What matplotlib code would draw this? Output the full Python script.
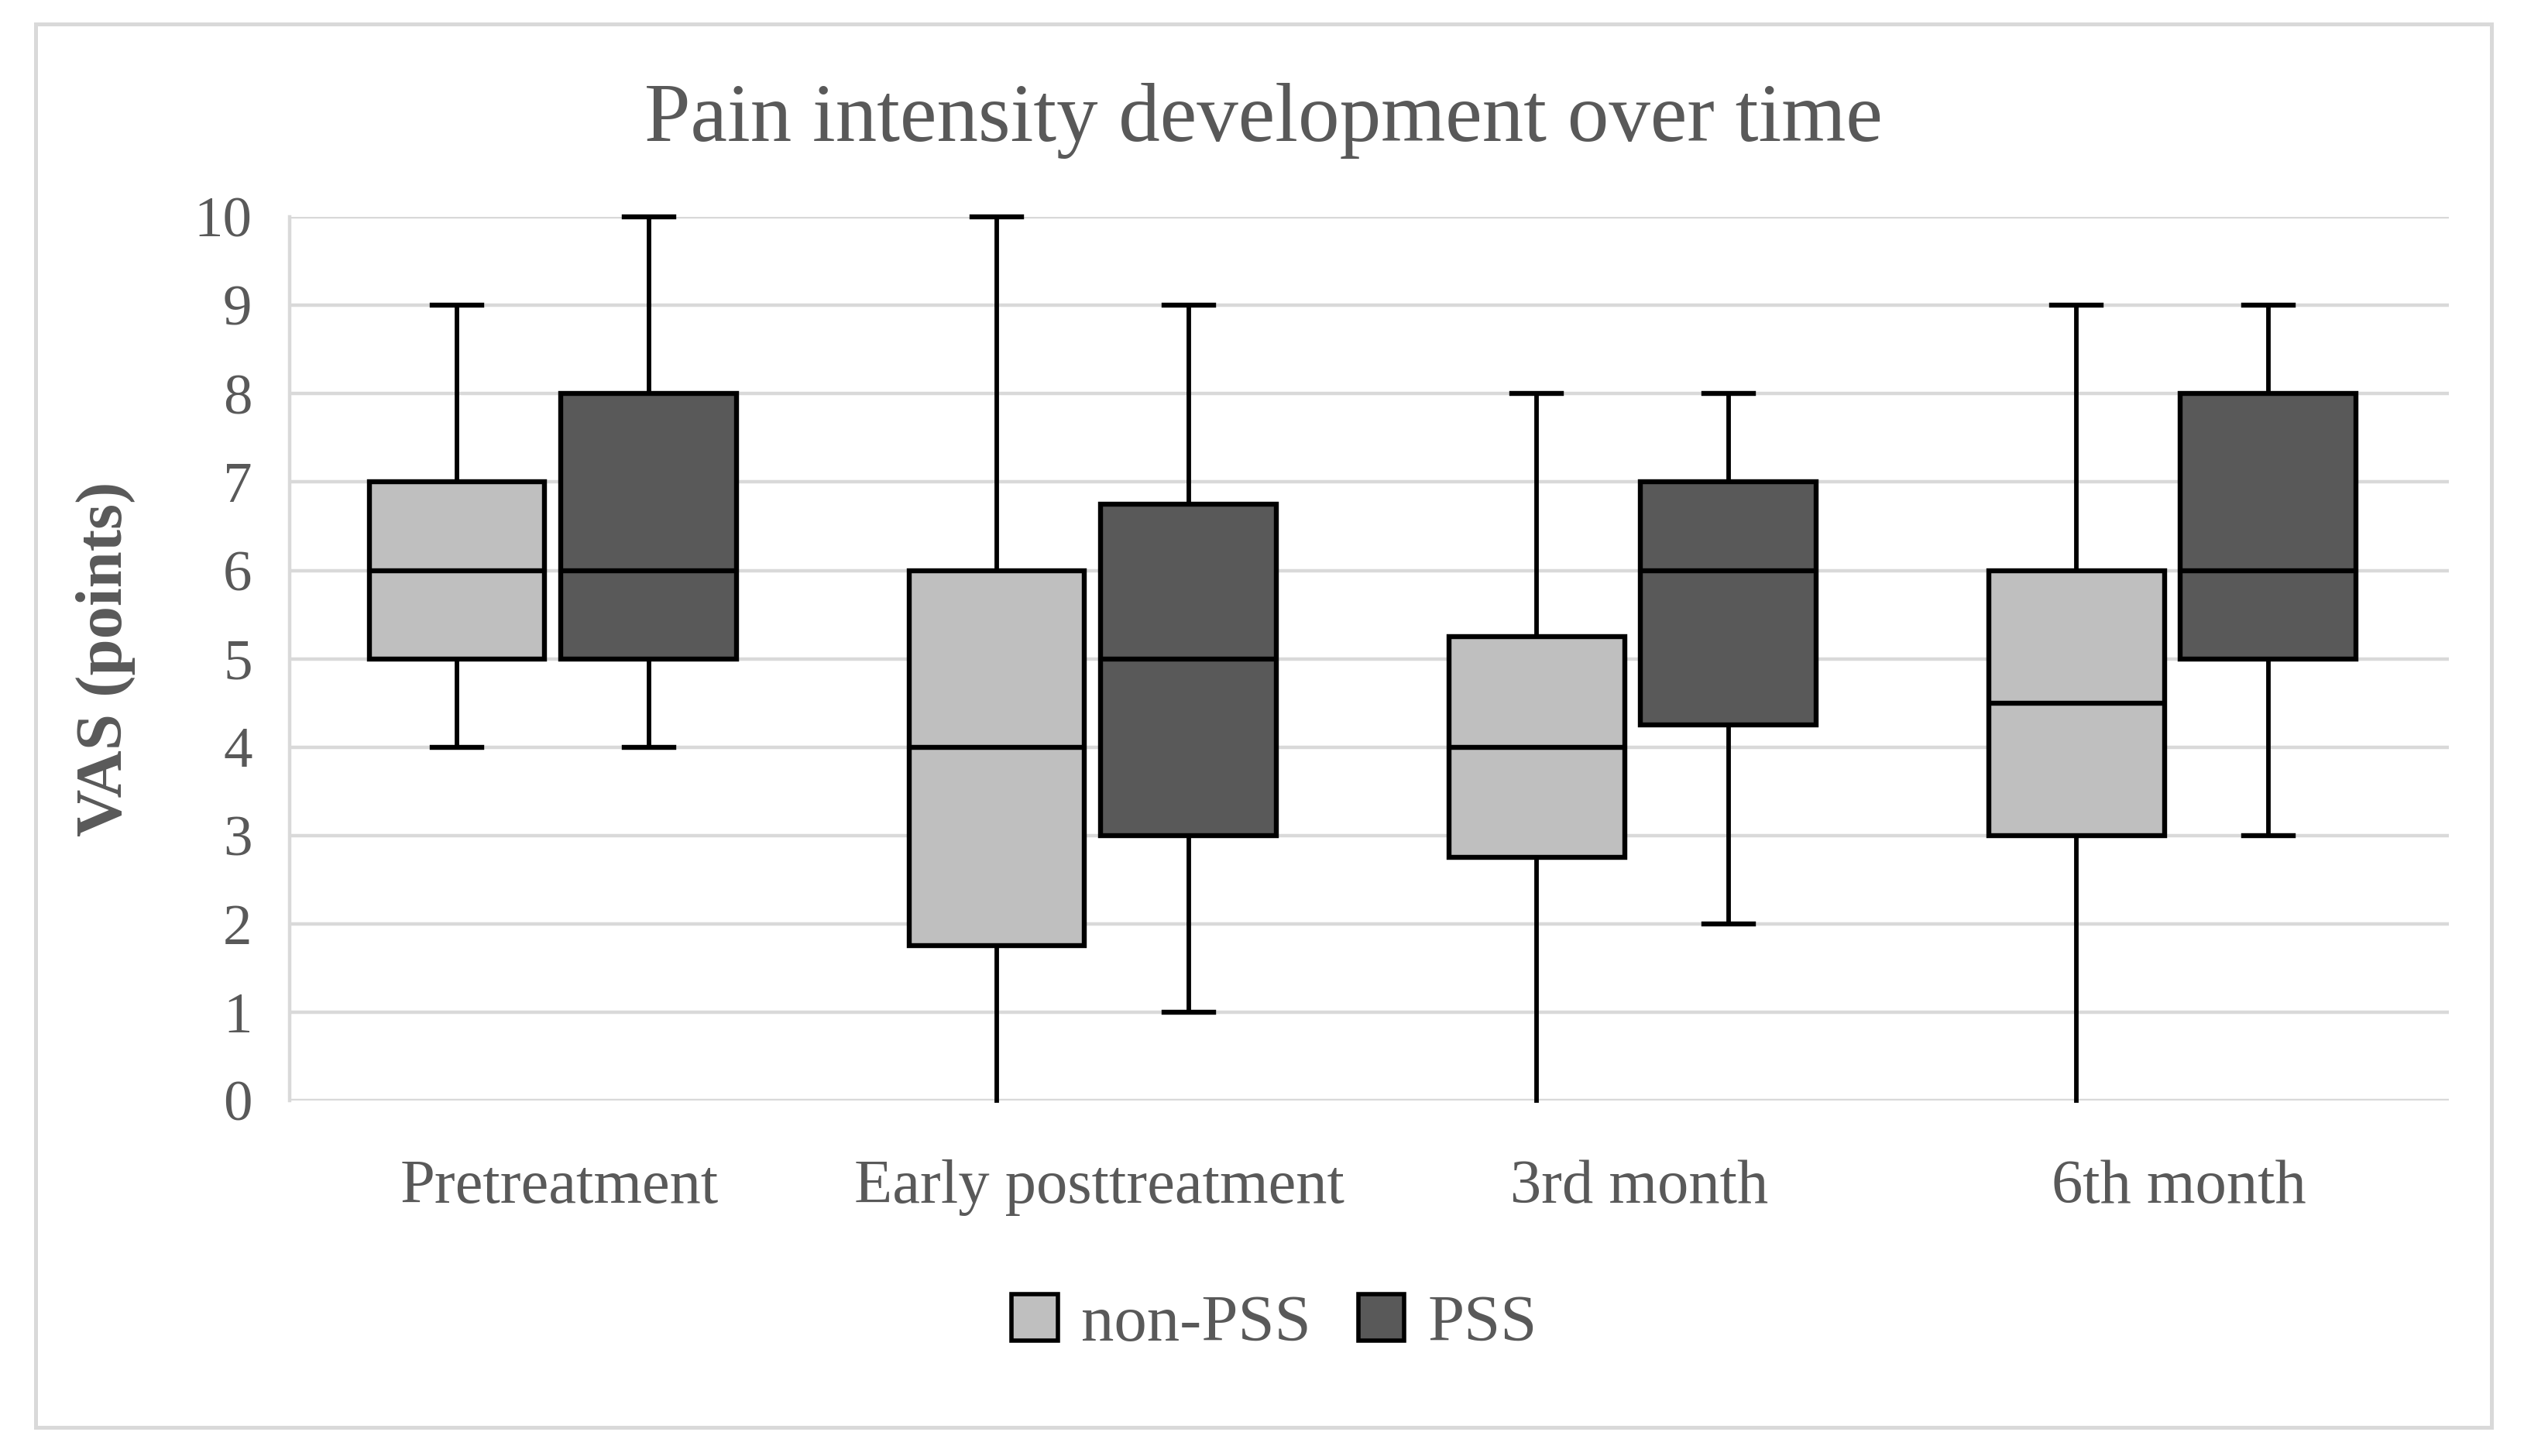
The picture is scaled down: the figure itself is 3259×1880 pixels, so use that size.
import matplotlib
matplotlib.use("Agg")
import matplotlib.pyplot as plt
from matplotlib.patches import Patch, Rectangle

plt.rcParams['font.family'] = ['Liberation Serif', 'DejaVu Serif']

# data (VAS points)
categories = ["Pretreatment", "Early posttreatment", "3rd month", "6th month"]

non_pss_min = [4, 0, 0, 0]
non_pss_q1 = [5, 1.75, 2.75, 3]
non_pss_med = [6, 4, 4, 4.5]
non_pss_q3 = [7, 6, 5.25, 6]
non_pss_max = [9, 10, 8, 9]

pss_min = [4, 1, 2, 3]
pss_q1 = [5, 3, 4.25, 5]
pss_med = [6, 5, 6, 6]
pss_q3 = [8, 6.75, 7, 8]
pss_max = [10, 9, 8, 9]

series = ["non-PSS", "PSS"]
colors = ["#bfbfbf", "#595959"]
text_col = "#595959"
grid_col = "#d9d9d9"


def make_stats(lo, q1, med, q3, hi):
    return [dict(whislo=a, q1=b, med=c, q3=d, whishi=e, fliers=[])
            for a, b, c, d, e in zip(lo, q1, med, q3, hi)]


fig = plt.figure(figsize=(32.59, 18.80), dpi=100)
ax = fig.add_axes([0.1148, 0.2441, 0.8555, 0.6069])

# outer chart border
fig.patches.append(Rectangle((0.0141, 0.0197), 0.973, 0.9638, transform=fig.transFigure,
                             fill=False, edgecolor=grid_col, linewidth=3.6))

groups = [
    make_stats(non_pss_min, non_pss_q1, non_pss_med, non_pss_q3, non_pss_max),
    make_stats(pss_min, pss_q1, pss_med, pss_q3, pss_max),
]
offsets = [-0.19, 0.165]

for stats, off, col in zip(groups, offsets, colors):
    pos = [i + off for i in range(len(categories))]
    art = ax.bxp(stats, positions=pos, widths=0.325, capwidths=0.092,
                 patch_artist=True, showfliers=False,
                 boxprops=dict(facecolor=col, edgecolor="black", linewidth=4.6),
                 medianprops=dict(color="black", linewidth=4.6),
                 whiskerprops=dict(color="black", linewidth=4.2),
                 capprops=dict(color="black", linewidth=4.6))
    for key in ["boxes", "medians", "whiskers", "caps"]:
        for a in art[key]:
            a.set_clip_on(False)
            a.set_zorder(3)
    # caps sitting on the zero line are not drawn in the original
    for c in art["caps"]:
        if max(abs(v) for v in c.get_ydata()) == 0:
            c.set_visible(False)

ax.set_xlim(-0.5, len(categories) - 0.5)
ax.set_ylim(0, 10)
ax.set_yticks(range(0, 11))
ax.set_xticks(range(len(categories)))
ax.set_xticklabels(categories)

ax.yaxis.grid(True, color=grid_col, linewidth=3.2)
ax.set_axisbelow(True)
for s in ["top", "right", "bottom"]:
    ax.spines[s].set_visible(False)
ax.spines["left"].set_color(grid_col)
ax.spines["left"].set_linewidth(3.2)

ax.tick_params(axis="y", length=0, pad=35, labelsize=54, labelcolor=text_col)
ax.tick_params(axis="x", length=0, pad=55, labelsize=58, labelcolor=text_col)

ax.set_ylabel("VAS (points)", fontsize=61, fontweight="bold", color=text_col)
ax.yaxis.set_label_coords(-0.0714, 0.5)

fig.text(0.5005, 0.9032, "Pain intensity development over time", ha="center",
         va="baseline", fontsize=77, color=text_col)

handles = [Patch(facecolor=c, edgecolor="black", linewidth=4, label=l)
           for c, l in zip(colors, series)]
leg = fig.legend(handles=handles, loc="center", bbox_to_anchor=(0.505, 0.0905), ncol=2,
                 frameon=False, fontsize=61, handlelength=0.7, handleheight=0.7,
                 handletextpad=0.36, columnspacing=0.72)
for t in leg.get_texts():
    t.set_color(text_col)

fig.savefig("out.png", dpi=100)
